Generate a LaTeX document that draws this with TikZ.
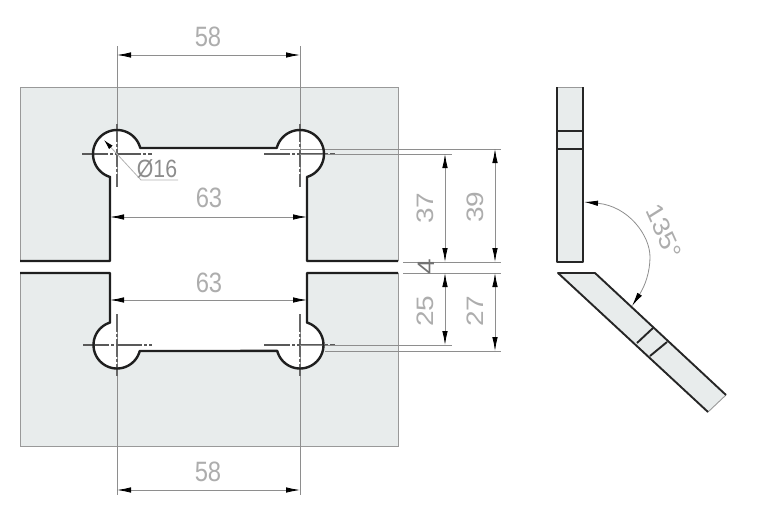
\documentclass[tikz,border=0pt]{standalone}
\usepackage{fontspec}
\setmainfont{Liberation Sans}
\usetikzlibrary{arrows.meta}
\definecolor{plate}{HTML}{E8ECEC}
\definecolor{dimtext}{HTML}{ADADAD}
\definecolor{dimgrey}{HTML}{8E8E8E}
\tikzset{
  x=1pt,y=-1pt,
  outline/.style={line width=2.4pt,black!88,line join=round},
  sideline/.style={line width=1.9pt,black!85,line join=round},
  border/.style={line width=0.9pt,black!40},
  dimline/.style={line width=0.8pt,draw=dimgrey},
  dimarrows/.style={dimline,{Latex[length=14pt,width=5.5pt,black]}-{Latex[length=14pt,width=5.5pt,black]}},
  centerline/.style={line width=1.2pt,black!65,dash pattern=on 26pt off 2pt on 3pt off 2pt},
  dimlabel/.style={font=\fontsize{28}{28}\selectfont,text=dimtext,inner sep=0pt,xscale=0.85},
}
\begin{document}
\begin{tikzpicture}
\useasboundingbox (0,0) rectangle (772,504);
% plates
\path[fill=plate] (20,87)--(398,87)--(398,261)--(307,261)--(307,177)
  -- plot[domain=433:194.6,samples=50] ({300+24*cos(\x)},{154+24*sin(\x)})
  -- plot[domain=345.4:107,samples=50] ({117+24*cos(\x)},{154+24*sin(\x)})
  -- (110,261)--(20,261)--cycle;
\path[fill=plate] (20,446)--(398,446)--(398,273)--(307,273)
  -- plot[domain=-72.6:165.4,samples=50] ({300+23.5*cos(\x)},{345+23.5*sin(\x)})
  -- plot[domain=14.8:252.6,samples=50] ({117+23.5*cos(\x)},{345+23.5*sin(\x)})
  -- (110,273)--(20,273)--cycle;
\draw[border] (20,261)--(20,87)--(398,87)--(398,261);
\draw[border] (20,273)--(20,446)--(398,446)--(398,273);
% centre lines and extension lines
\draw[dimline] (117,46)--(117,187) (300,46)--(300,187);
\draw[dimline] (117,314)--(117,495) (300,314)--(300,495);
\draw[line width=1.2pt,black!60,dash pattern=on 18pt off 2pt on 3pt off 2pt] (117,124)--(117,187) (300,124)--(300,187) (117,314)--(117,376) (300,314)--(300,376);
\draw[centerline] (82,154)--(152,154);
\draw[centerline] (264,154)--(335,154);
\draw[centerline] (83,345)--(152,345);
\draw[centerline] (264,345)--(335,345);
\draw[dimline] (280,149)--(501,149) (300,154)--(452,154);
\draw[dimline] (403,262)--(501,262) (403,273)--(501,273);
\draw[dimline] (300,345)--(452,345) (325,351)--(501,351);
% outlines
\draw[outline] (20,261)--(110,261)--(110,177)
  -- plot[domain=107:345.4,samples=50] ({117+24*cos(\x)},{154+24*sin(\x)})
  -- plot[domain=194.6:433,samples=50] ({300+24*cos(\x)},{154+24*sin(\x)})
  -- (307,261)--(398,261);
\draw[outline] (20,273)--(110,273)
  -- plot[domain=252.6:14.8,samples=50] ({117+23.5*cos(\x)},{345+23.5*sin(\x)})
  -- plot[domain=165.4:-72.6,samples=50] ({300+23.5*cos(\x)},{345+23.5*sin(\x)})
  -- (307,273)--(398,273);
% dimensions
\draw[dimarrows] (117,55)--(300,55);
\draw[dimarrows] (117,490)--(300,490);
\draw[dimarrows] (110,217)--(307,217);
\draw[dimarrows] (110,300)--(307,300);
\draw[dimarrows] (445,154)--(445,262);
\draw[dimarrows] (495,149)--(495,262);
\draw[dimarrows] (445,273)--(445,345);
\draw[dimarrows] (495,273)--(495,351);
\node[dimlabel] (d58a) at (208,37) {58};
\node[dimlabel] (d58b) at (208,472) {58};
\node[dimlabel] (d63a) at (209,198) {63};
\node[dimlabel] (d63b) at (209,283) {63};
\node[dimlabel,rotate=90] (d37) at (425,208) {37};
\node[dimlabel,rotate=90] (d39) at (475,207) {39};
\node[dimlabel,rotate=90] (d25) at (425,311) {25};
\node[dimlabel,rotate=90] (d27) at (475,311) {27};
\node[dimlabel,rotate=90,text=black!55] (d4) at (426,267) {4};
% diameter callout
\draw[line width=0.8pt,draw=black!30] (117,154)--(141,180)--(178,180);
\draw[-{Latex[length=10pt,width=5pt,black]},line width=0.8pt,draw=black!30] (117,154)--(104,140);
\node[dimlabel,font=\fontsize{25}{25}\selectfont,text=black!45] (dia) at (157,169) {Ø16};
% side view
\path[fill=plate] (557,87) rectangle (583,262);
\draw[border] (557,87)--(583,87);
\draw[sideline] (557,87)--(557,262)--(583,262)--(583,87);
\draw[sideline] (557,131)--(583,131) (557,149)--(583,149);
\path[fill=plate] (558,273)--(595,273)--(726,395)--(708,412)--cycle;
\draw[border] (726,395)--(708,412);
\draw[sideline] (708,412)--(558,273)--(595,273)--(726,395);
\draw[sideline] (653,328)--(637,343) (667,342)--(650,356);
% angle
\draw[dimline,{Latex[length=14pt,width=5.5pt,black]}-{Latex[length=14pt,width=5.5pt,black]}] (584,202) .. controls (628,206) and (650,235) .. (650,257) .. controls (650,272) and (645,286) .. (632,306);
\node[dimlabel,rotate=-62] (d135) at (664,232) {135°};
\end{tikzpicture}
\end{document}
